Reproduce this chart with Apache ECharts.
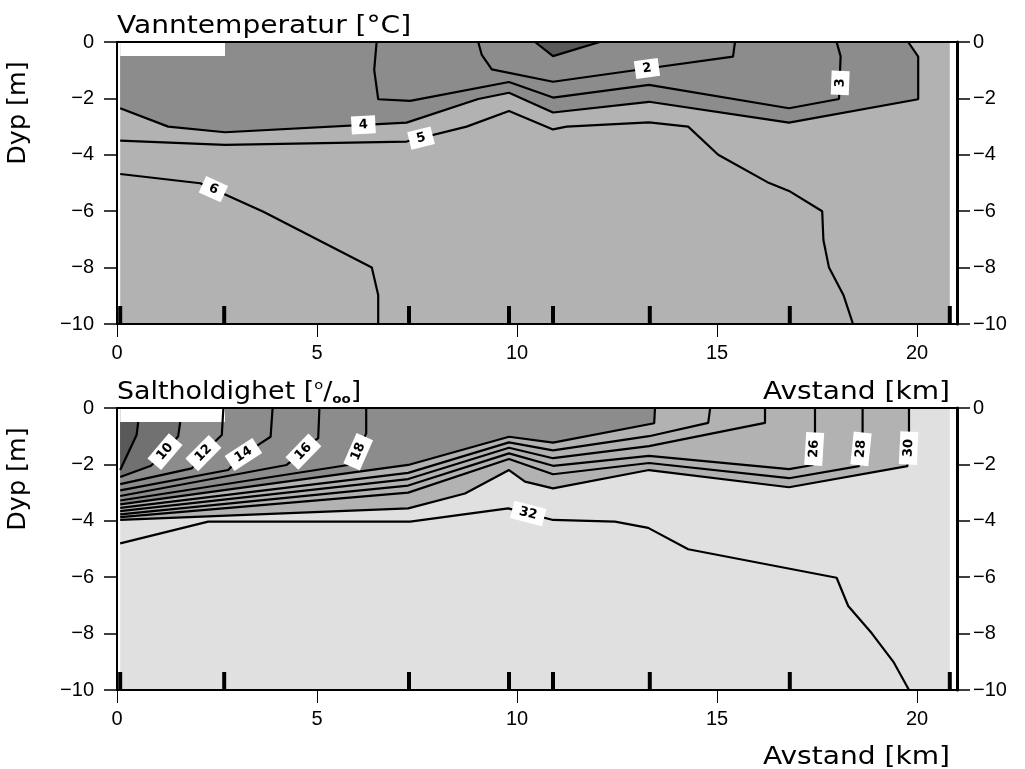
<!DOCTYPE html>
<html><head><meta charset="utf-8">
<script src="https://cdn.jsdelivr.net/npm/echarts@6/dist/echarts.min.js"></script>
<style>html,body{margin:0;padding:0;background:#fff}#c{width:1025px;height:769px}</style>
</head><body><div id="c"></div>
<script>
// ---------- axes / stations ----------
const xTicks = [0, 5, 10, 15, 20];
const yTicks = [-10, -8, -6, -4, -2, 0];
const xRange = [0, 21];
const yRange = [-10, 0];
const dataX = [0.08, 20.82];
const stations = [0.08, 2.68, 7.3, 9.8, 10.9, 13.32, 16.82, 20.82];
const whiteBox = [[0.08, -0.5], [2.7, 0]];

// ---------- temperature contour lines ----------
const T1 = [[10.45,0],[10.9,-0.5],[12.07,0]];
const T2 = [[9.03,0],[9.12,-0.46],[9.37,-0.97],[10.9,-1.41],[13.3,-0.93],[15.4,-0.52],[15.45,0]];
const T3 = [[6.49,0],[6.43,-0.99],[6.53,-2.03],[7.33,-2.09],[9.8,-1.42],[10.9,-1.97],[13.3,-1.52],[16.8,-2.35],[18.05,-2.02],[18.09,-0.5],[17.99,0]];
const T4 = [[0.08,-2.35],[1.28,-3.0],[2.7,-3.2],[7.24,-2.86],[9.03,-2.02],[9.8,-1.8],[10.9,-2.5],[13.3,-2.12],[16.8,-2.86],[20.03,-2.03],[20.03,-0.52],[19.78,0]];
const T5 = [[0.08,-3.5],[2.7,-3.65],[7.24,-3.53],[8.74,-3.0],[9.8,-2.45],[10.9,-3.1],[11.24,-3.0],[13.3,-2.85],[14.28,-3.0],[15.03,-4.0],[16.26,-4.97],[16.8,-5.28],[17.63,-6.0],[17.66,-7.02],[17.8,-8.0],[18.16,-8.97],[18.4,-10]];
const T6 = [[0.08,-4.68],[2.08,-5.01],[3.66,-6.02],[6.37,-8.0],[6.53,-8.97],[6.53,-10]];
const tempLabels = [['2',13.25,-0.94],['3',18.08,-1.45],['4',6.16,-2.94],['5',7.6,-3.41],['6',2.41,-5.22]];

// ---------- salinity contour lines ----------
const S8  = [[0.53,-0.5],[0.49,-0.96],[0.08,-2.2]];
const S10 = [[1.58,-0.5],[1.53,-1.0],[1.2,-1.55],[0.85,-2.05],[0.08,-2.45]];
const S12 = [[2.66,0],[2.62,-0.96],[2.45,-1.19],[2.16,-1.6],[1.87,-2.14],[0.08,-2.7]];
const S14 = [[3.89,0],[3.84,-1.02],[3.53,-1.31],[3.16,-1.65],[2.78,-2.2],[0.08,-2.92]];
const S16 = [[5.06,0],[5.03,-1.07],[4.9,-1.2],[4.66,-1.55],[4.24,-2.02],[0.08,-3.12]];
const S18 = [[6.23,0],[6.23,-0.9],[6.03,-1.55],[5.78,-2.02],[0.08,-3.28]];
const S20 = [[0.08,-3.42],[7.28,-2.02],[9.8,-1.02],[10.9,-1.23],[13.43,-0.54],[13.45,0]];
const S22 = [[0.08,-3.54],[7.28,-2.3],[9.8,-1.22],[10.9,-1.5],[13.3,-1.0],[14.78,-0.53],[14.83,0]];
const S24 = [[0.08,-3.66],[7.28,-2.52],[9.8,-1.41],[10.9,-1.78],[13.3,-1.35],[16.2,-0.53],[16.2,0]];
const S26 = [[0.08,-3.77],[7.28,-2.75],[9.8,-1.61],[10.9,-2.05],[13.3,-1.7],[16.8,-2.17],[17.4,-2.02],[17.45,-0.84],[17.45,0]];
const S28 = [[0.08,-3.87],[7.28,-3.0],[9.8,-1.81],[10.9,-2.35],[13.3,-1.95],[16.8,-2.49],[18.55,-2.06],[18.64,-0.84],[18.64,0]];
const S30 = [[0.08,-3.97],[7.28,-3.56],[8.7,-3.03],[9.8,-2.2],[10.2,-2.61],[10.9,-2.85],[13.3,-2.2],[16.8,-2.81],[19.76,-2.06],[19.8,-0.84],[19.8,0]];
const S32 = [[0.08,-4.8],[2.28,-4.03],[7.33,-4.03],[9.78,-3.56],[10.9,-3.97],[12.45,-4.03],[13.28,-4.25],[14.28,-5.01],[17.99,-6.02],[18.28,-7.02],[18.87,-7.99],[19.41,-9.0],[19.8,-10]];
const salLabels = [['10',1.2,-1.55],['12',2.16,-1.6],['14',3.16,-1.65],['16',4.66,-1.55],['18',6.03,-1.55],['26',17.43,-1.45],['28',18.6,-1.45],['30',19.79,-1.42],['32',10.28,-3.74]];

// ---------- colours ----------
const C = {dark:'#595959', dark2:'#717171', mid:'#8c8c8c', light:'#b2b2b2', lightest:'#e0e0e0', white:'#ffffff'};

const tempLines = {'1':T1,'2':T2,'3':T3,'4':T4,'5':T5,'6':T6};
const salLines = {'8':S8,'10':S10,'12':S12,'14':S14,'16':S16,'18':S18,'20':S20,'22':S22,'24':S24,'26':S26,'28':S28,'30':S30,'32':S32};

function rectPts(x0,x1,y0,y1){return [[x0,y0],[x1,y0],[x1,y1],[x0,y1]];}
const wb = rectPts(whiteBox[0][0], whiteBox[1][0], whiteBox[0][1], whiteBox[1][1]);

const tempFills = [
  {pts: rectPts(dataX[0], dataX[1], yRange[0], yRange[1]), color: C.light},
  {pts: T4.concat([[dataX[0], 0]]), color: C.mid},
  {pts: T1, color: C.dark},
  {pts: wb, color: C.white}
];
const salFills = [
  {pts: rectPts(dataX[0], dataX[1], yRange[0], yRange[1]), color: C.lightest},
  {pts: S30.concat([[dataX[0], 0]]), color: C.light},
  {pts: S20.concat([[dataX[0], 0]]), color: C.mid},
  {pts: [[S10[0][0], 0]].concat(S10, [[dataX[0], 0]]), color: C.dark2},
  {pts: [[S8[0][0], 0]].concat(S8, [[dataX[0], 0]]), color: C.dark},
  {pts: wb, color: C.white}
];

const minus = v => String(v).replace('-', '\u2212');
const tickFont = 'Liberation Sans';

function xAx(g, pos){
  const b = pos === 'bottom';
  return {type:'value', gridIndex:g, position:pos, min:xRange[0], max:xRange[1], z:10,
    axisLine:{show:true, onZero:false, lineStyle:{color:'#000', width:2}},
    axisTick:{show:b, inside:false, length:13, customValues:xTicks, lineStyle:{color:'#000', width:1}},
    axisLabel:{show:b, margin:19, fontSize:20, fontFamily:tickFont, color:'#000', customValues:xTicks, formatter:minus},
    splitLine:{show:false}};
}
function yAx(g, pos){
  const left = pos === 'left';
  return {type:'value', gridIndex:g, position:pos, min:yRange[0], max:yRange[1], z:10,
    axisLine:{show:true, onZero:false, lineStyle:{color:'#000', width: left ? 2 : 3}},
    axisTick:{show:true, inside:false, length:13, customValues:yTicks, lineStyle:{color:'#000', width:1.5}},
    axisLabel:{show:true, margin: left ? 23 : 16, fontSize:20, fontFamily:tickFont, color:'#000', customValues:yTicks, formatter:minus},
    splitLine:{show:false}};
}

function fillSeries(g, polys){
  return {type:'custom', xAxisIndex:g, yAxisIndex:g*2, z:1, silent:true, clip:true,
    data: polys.map(p => [p.pts[0][0], p.pts[0][1]]),
    renderItem: (params, api) => {
      const p = polys[params.dataIndex];
      return {type:'polygon', shape:{points: p.pts.map(q => api.coord(q))}, style:{fill:p.color, stroke:null}};
    }};
}
function lineSeries(g, lines){
  return Object.keys(lines).map(k => ({type:'line', xAxisIndex:g, yAxisIndex:g*2, z:3, silent:true,
    data: lines[k], showSymbol:false, symbol:'none', smooth:false,
    lineStyle:{color:'#000', width:2.2}}));
}
function segDist(p,a,b){
  const dx=b[0]-a[0], dy=b[1]-a[1]; const l2=dx*dx+dy*dy;
  let t = l2 ? ((p[0]-a[0])*dx+(p[1]-a[1])*dy)/l2 : 0; t=Math.max(0,Math.min(1,t));
  const x=a[0]+t*dx-p[0], y=a[1]+t*dy-p[1]; return Math.sqrt(x*x+y*y);
}
function labelSeries(g, labels, lines){
  return {type:'custom', xAxisIndex:g, yAxisIndex:g*2, z:4, silent:true, clip:false,
    data: labels.map(l => [l[1], l[2]]),
    renderItem: (params, api) => {
      const L = labels[params.dataIndex];
      const p = api.coord([L[1], L[2]]);
      const pts = lines[L[0]].map(q => api.coord(q));
      let best = 1e9, ang = 0;
      for (let i=0;i<pts.length-1;i++){
        const d = segDist(p, pts[i], pts[i+1]);
        if (d < best - 1e-6){ best = d; ang = Math.atan2(-(pts[i+1][1]-pts[i][1]), pts[i+1][0]-pts[i][0]); }
      }
      if (ang > Math.PI/2 + 1e-6) ang -= Math.PI;
      if (ang <= -Math.PI/2 + 1e-6) ang += Math.PI;
      const w = 9 * L[0].length + 15, h = 18;
      return {type:'group', x:p[0], y:p[1], rotation:ang, children:[
        {type:'rect', shape:{x:-w/2, y:-h/2, width:w, height:h}, style:{fill:'#fff'}},
        {type:'text', style:{text:L[0], x:0, y:0, align:'center', verticalAlign:'middle', font:'bold 13px "DejaVu Sans"', fill:'#000'}}
      ]};
    }};
}
function stationSeries(g){
  return {type:'custom', xAxisIndex:g, yAxisIndex:g*2, z:5, silent:true, clip:false,
    data: stations.map(s => [s, yRange[0]]),
    renderItem: (params, api) => {
      const p = api.coord([api.value(0), api.value(1)]);
      return {type:'rect', shape:{x:p[0]-2, y:p[1]-18, width:4, height:18}, style:{fill:'#000'}};
    }};
}

const titleFont = '24px "DejaVu Sans"';
const option = {
  animation:false,
  backgroundColor:'#fff',
  grid:[
    {left:117, top:42, width:840, height:282, show:false},
    {left:117, top:408, width:840, height:282, show:false}
  ],
  xAxis:[xAx(0,'bottom'), xAx(1,'bottom'), xAx(0,'top'), xAx(1,'top')],
  yAxis:[yAx(0,'left'), yAx(0,'right'), yAx(1,'left'), yAx(1,'right')],
  series:[].concat(
    [fillSeries(0, tempFills)], lineSeries(0, tempLines), [labelSeries(0, tempLabels, tempLines), stationSeries(0)],
    [fillSeries(1, salFills)], lineSeries(1, salLines), [labelSeries(1, salLabels, salLines), stationSeries(1)]
  ),
  graphic:[
    {type:'text', x:117, y:26.5, scaleX:1.17, style:{text:'Vanntemperatur [°C]', font:titleFont, fill:'#000', align:'left', verticalAlign:'middle'}},
    {type:'text', x:117, y:392.5, scaleX:1.12, style:{text:'{a|Saltholdighet [}{b|o}{a|/}{c|oo}{a|]}', align:'left', verticalAlign:'middle',
      rich:{a:{font:titleFont, fill:'#000', lineHeight:26}, b:{font:'13px "DejaVu Sans"', fill:'#000', verticalAlign:'top', lineHeight:26}, c:{font:'bold 12px "DejaVu Sans"', fill:'#000', verticalAlign:'bottom', lineHeight:26}}}},
    {type:'text', x:950, y:392.5, scaleX:1.17, style:{text:'Avstand [km]', font:titleFont, fill:'#000', align:'right', verticalAlign:'middle'}},
    {type:'text', x:950, y:757.5, scaleX:1.17, style:{text:'Avstand [km]', font:titleFont, fill:'#000', align:'right', verticalAlign:'middle'}},
    {type:'text', x:19, y:113, rotation:Math.PI/2, scaleX:1.06, style:{text:'Dyp [m]', font:titleFont, fill:'#000', align:'center', verticalAlign:'middle'}},
    {type:'text', x:19, y:479, rotation:Math.PI/2, scaleX:1.06, style:{text:'Dyp [m]', font:titleFont, fill:'#000', align:'center', verticalAlign:'middle'}}
  ]
};
echarts.init(document.getElementById('c'), null, {renderer:'canvas'}).setOption(option);
</script></body></html>
